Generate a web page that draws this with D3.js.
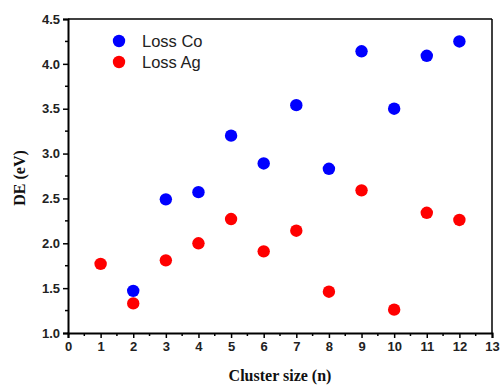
<!DOCTYPE html>
<html><head><meta charset="utf-8">
<script src="https://cdn.jsdelivr.net/npm/d3@7"></script>
<style>body{margin:0;background:#fff}svg{display:block}</style>
</head><body>
<script>
const clusterSizes = [1,2,3,4,5,6,7,8,9,10,11,12];
const lossCo = [null,1.47,2.49,2.57,3.20,2.89,3.54,2.83,4.14,3.50,4.09,4.25];
const lossAg = [1.77,1.33,1.81,2.00,2.27,1.91,2.14,1.46,2.59,1.26,2.34,2.26];
const xTicks = [0,1,2,3,4,5,6,7,8,9,10,11,12,13];
const yTicks = [1.0,1.5,2.0,2.5,3.0,3.5,4.0,4.5];
const seriesNames = ["Loss Co","Loss Ag"];
const seriesColors = ["#0000ff","#ff0000"];

const W=501,H=385;
const m={left:68,right:9,top:19,bottom:52};
const svg=d3.select("body").append("svg").attr("width",W).attr("height",H);
const x=d3.scaleLinear().domain([0,13]).range([m.left,W-m.right]);
const y=d3.scaleLinear().domain([1.0,4.5]).range([H-m.bottom,m.top]);

// frame top/right
svg.append("line").attr("x1",x(0)).attr("x2",x(13)).attr("y1",y(4.5)).attr("y2",y(4.5)).attr("stroke","#000").attr("stroke-width",1.5);
svg.append("line").attr("x1",x(13)).attr("x2",x(13)).attr("y1",y(4.5)).attr("y2",y(1.0)).attr("stroke","#000").attr("stroke-width",1.5);

// minor ticks
const xMinor=d3.range(0.5,13,1);
const yMinor=d3.range(1.25,4.5,0.5);
const gx=svg.append("g").attr("transform",`translate(0,${y(1.0)})`);
gx.selectAll(".mn").data(xMinor).join("line").attr("x1",d=>x(d)).attr("x2",d=>x(d)).attr("y1",0).attr("y2",3).attr("stroke","#000").attr("stroke-width",1.5);
const gy=svg.append("g").attr("transform",`translate(${x(0)},0)`);
gy.selectAll(".mn").data(yMinor).join("line").attr("y1",d=>y(d)).attr("y2",d=>y(d)).attr("x1",0).attr("x2",-3).attr("stroke","#000").attr("stroke-width",1.5);

const xAxis=d3.axisBottom(x).tickValues(xTicks).tickFormat(d3.format("d")).tickSize(5).tickPadding(4);
const yAxis=d3.axisLeft(y).tickValues(yTicks).tickFormat(d3.format(".1f")).tickSize(5).tickPadding(3);
gx.call(xAxis);
gy.call(yAxis);
[gx,gy].forEach(g=>{
  g.select(".domain").attr("stroke","#000").attr("stroke-width",2);
  g.selectAll(".tick line").attr("stroke","#000").attr("stroke-width",1.5);
  g.selectAll(".tick text").attr("fill","#222").attr("font-family","Liberation Sans, Arial, sans-serif").attr("font-weight","bold").attr("font-size",13);
});

// data points
const series=[lossCo,lossAg];
series.forEach((vals,i)=>{
  const pts=clusterSizes.map((n,j)=>({n,v:vals[j]})).filter(d=>d.v!=null);
  svg.append("g").selectAll("circle").data(pts).join("circle")
    .attr("cx",d=>x(d.n)).attr("cy",d=>y(d.v)).attr("r",6.2).attr("fill",seriesColors[i]);
});

// legend
const lg=svg.append("g");
seriesNames.forEach((s,i)=>{
  lg.append("circle").attr("cx",119).attr("cy",41+i*21).attr("r",6.2).attr("fill",seriesColors[i]);
  lg.append("text").attr("x",142).attr("y",46.5+i*21).text(s).attr("font-family","Liberation Sans, Arial, sans-serif").attr("font-size",16.5).attr("fill","#222");
});

// axis titles
svg.append("text").attr("x",280).attr("y",381).attr("text-anchor","middle").text("Cluster size (n)")
  .attr("font-family","Liberation Serif, Times New Roman, serif").attr("font-weight","bold").attr("font-size",16).attr("fill","#111");
svg.append("text").attr("transform","translate(25,178) rotate(-90)").attr("text-anchor","middle").text("DE (eV)")
  .attr("font-family","Liberation Serif, Times New Roman, serif").attr("font-weight","bold").attr("font-size",16).attr("fill","#111");
</script>
</body></html>
